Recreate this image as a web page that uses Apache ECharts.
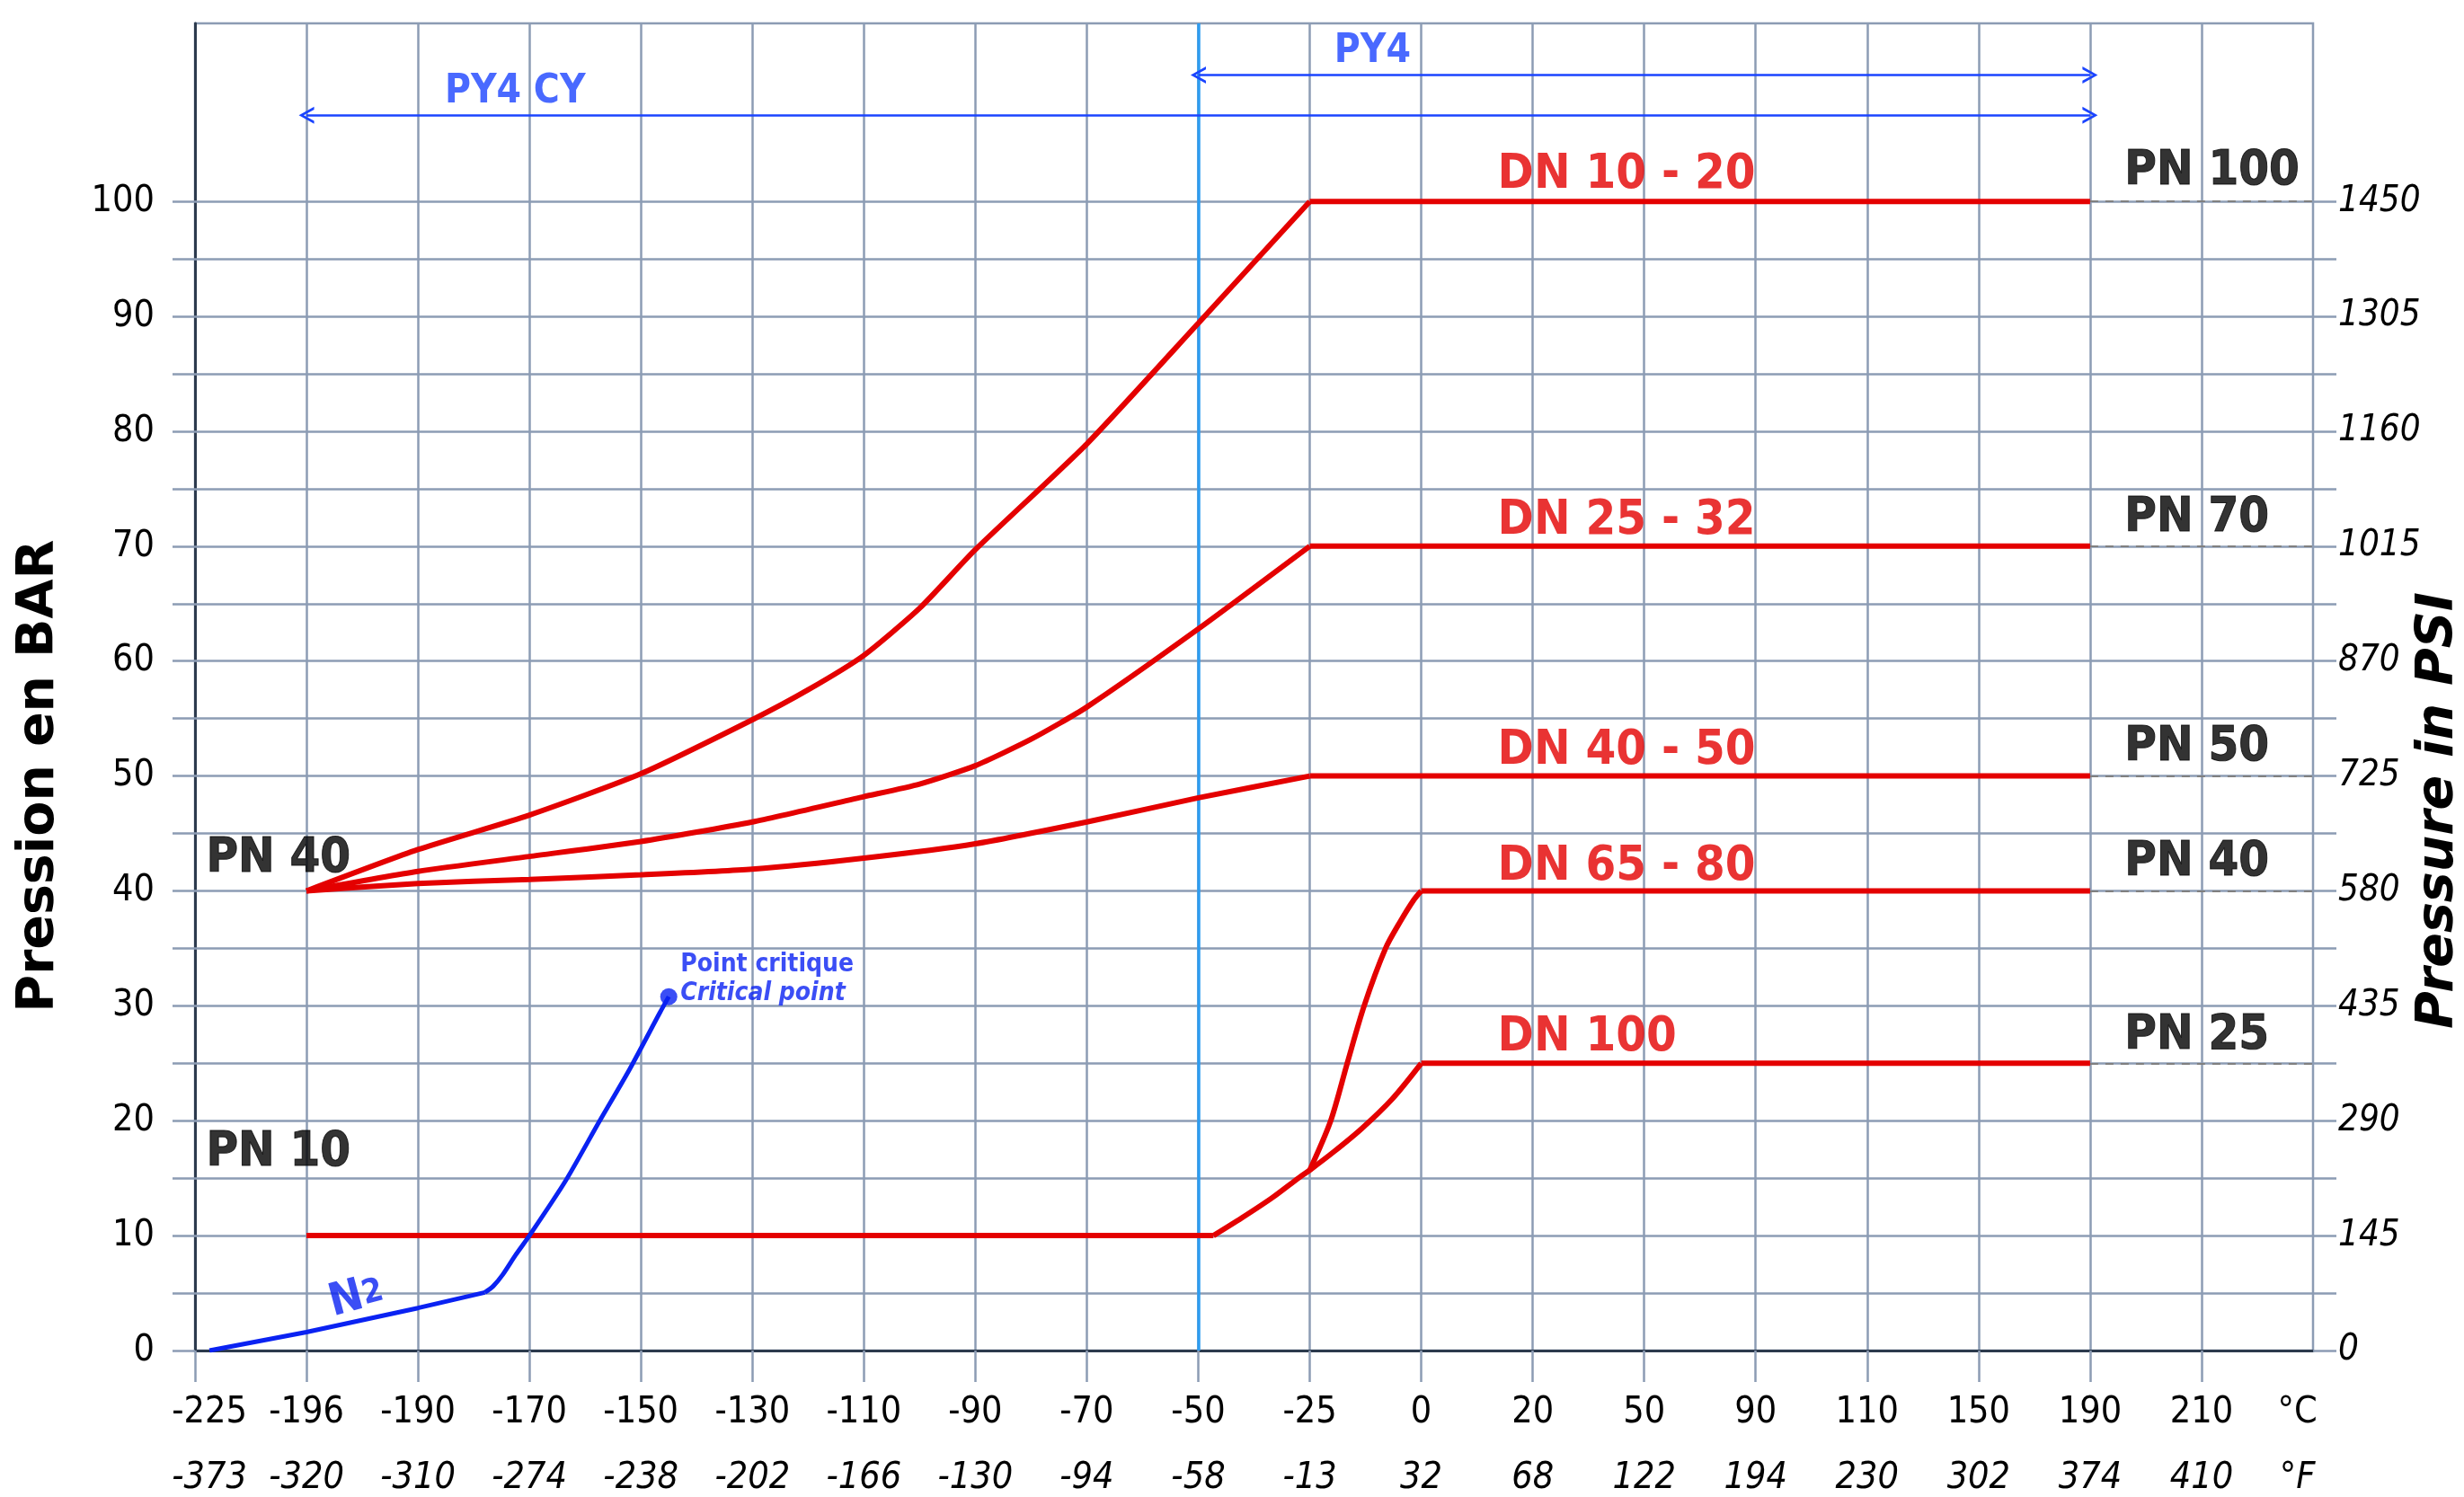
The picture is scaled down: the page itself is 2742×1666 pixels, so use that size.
<!DOCTYPE html>
<html><head><meta charset="utf-8">
<script src="https://cdn.jsdelivr.net/npm/echarts@6/dist/echarts.min.js"></script>
<style>html,body{margin:0;padding:0;background:#fff}#c{width:2742px;height:1666px}</style>
</head><body><div id="c"></div>
<script>
// ---------- data ----------
const celsiusTicks = [-225,-196,-190,-170,-150,-130,-110,-90,-70,-50,-25,0,20,50,90,110,150,190,210];
const fahrenheitTicks = [-373,-320,-310,-274,-238,-202,-166,-130,-94,-58,-13,32,68,122,194,230,302,374,410];
const barTicks = [0,10,20,30,40,50,60,70,80,90,100];
const psiTicks = [0,145,290,435,580,725,870,1015,1160,1305,1450];

// curves: [°C, bar]
const dn1020Curve = [[-196,40],[-190,43.6],[-170,46.6],[-150,50.2],[-130,54.9],[-120,57.5],[-110,60.5],[-100,64.6],[-90,69.7],[-70,78.9],[-50,89.4],[-25,100]];
const dn2532Curve = [[-196,40],[-190,41.7],[-170,43.0],[-150,44.3],[-130,46.0],[-110,48.2],[-100,49.3],[-90,50.9],[-80,53.2],[-70,56.0],[-50,62.8],[-25,70]];
const dn4050Curve = [[-196,40],[-190,40.65],[-170,41.0],[-150,41.4],[-130,41.9],[-110,42.85],[-90,44.1],[-70,46.0],[-50,48.1],[-25,50]];
const pn10Line = [[-196,10],[-46.6,10]];
const dn100Curve = [[-46.6,10],[-40.2,11.55],[-33.4,13.3],[-27.4,15.05],[-25,15.7],[-19.6,17.3],[-13.4,19.3],[-6.5,21.9],[0,25]];
const dn6580Curve = [[-25,15.7],[-20.3,20],[-16.6,25],[-12.8,30],[-8,35],[-4.6,37.4],[-1.7,39.2],[0,40]];
const plateaus = [[-25,190,100],[-25,190,70],[-25,190,50],[0,190,40],[0,190,25]];
const n2Line = [[-225,0],[-196,1.6],[-190,3.7],[-178,5.05]];
const n2Curve = [[-178,5.05],[-176.5,5.6],[-174.8,6.6],[-172.5,8.3],[-170,10],[-163.6,14.7],[-157.5,19.9],[-152,24.5],[-146.6,29.4],[-145,30.8]];
const criticalPoint = [-145,30.8];
const pnLevels = [100,70,50,40,25];
const rangeArrows = [[-196,190,107.5],[-50,190,111]];
const rangeLabels = [['PY4 CY',-185.2,109.5],['PY4',-19.5,113.0]];
const dnLabels = [['DN 10 - 20',102.3],['DN 25 - 32',72.2],['DN 40 - 50',52.2],['DN 65 - 80',42.1],['DN 100',27.2]];
const pnRightLabels = [['PN 100',102.6],['PN 70',72.4],['PN 50',52.5],['PN 40',42.5],['PN 25',27.4]];
const pnLeftLabels = [['PN 40',42.8],['PN 10',17.2]];
const dnLabelX = 13.7, pnRightX = 196.2, pnLeftX = -226;
const criticalLabels = [['Point critique',-142.9,33.6,'normal'],['Critical point',-142.9,31.1,'italic']];
const n2Label = [-193.3,4.6];
const pyDivider = -50;

// ---------- layout / style ----------
const FONT = '"DejaVu Sans Condensed","DejaVu Sans",sans-serif';
const GRID_C = '#8c9cb4', AXIS_C = '#2c3a4d', RED = '#e40000', BLUE = '#0a22f2',
      ARROW_BLUE = '#1b44ff', SKY = '#2d9cf0', DASH_C = '#808080';
const Y_MAX = 115.5, X_MAX = 19, FIRST_SLOT = 0.13, UNIT_SLOT = 18.86;

const slots = celsiusTicks.map((t,i)=> i===0 ? FIRST_SLOT : i);
function toPos(c){
  const n = celsiusTicks.length;
  for (let i=0;i<n-1;i++){
    const a=celsiusTicks[i], b=celsiusTicks[i+1];
    if (c<=b || i===n-2) return slots[i] + (c-a)/(b-a)*(slots[i+1]-slots[i]);
  }
}
const P = arr => arr.map(([c,v])=>[toPos(c),v]);
const labelSlots = slots.concat([UNIT_SLOT]);
function xLabel(v){
  for (let i=0;i<labelSlots.length;i++){
    if (Math.abs(labelSlots[i]-v)<0.005){
      if (i===celsiusTicks.length) return '{c|°C}\n{f|°F}';
      return '{c|'+celsiusTicks[i]+'}\n{f|'+fahrenheitTicks[i]+'}';
    }
  }
  return '';
}
const step5 = []; for (let v=0; v<=barTicks[barTicks.length-1]; v+=5) step5.push(v);
const chevron = 'path://M0,10 L5,0 L10,10 L8.3,10 L5,3.2 L1.7,10 Z';

function redLine(data, smooth){
  return {type:'line', data:P(data), smooth: smooth||false, showSymbol:false, symbol:'none',
    silent:true, z:5, lineStyle:{color:RED, width:6}};
}
function textItem(text, c, v, style){
  return {value:[toPos(c), v], label:Object.assign({show:true, position:'right', distance:0, formatter:text,
    fontFamily:FONT}, style)};
}

const series = [];
series.push({type:'line', data:[], silent:true, z:1, markLine:{silent:true, symbol:['none','none'], label:{show:false},
  lineStyle:{color:GRID_C, width:2.5, type:'solid'}, data: step5.filter(v=>v>0).map(v=>({yAxis:v}))}});
series.push({type:'line', data:[], silent:true, z:2, markLine:{silent:true, symbol:['none','none'], label:{show:false},
  lineStyle:{color:SKY, width:3.5, type:'solid'}, data:[{xAxis:toPos(pyDivider)}]}});
series.push({type:'line', data:[], silent:true, z:2, markLine:{silent:true, symbol:['none','none'], label:{show:false},
  lineStyle:{color:DASH_C, width:2, type:[9,8]},
  data: pnLevels.map(v=>[{coord:[toPos(190),v]},{coord:[X_MAX,v]}])}});
series.push({type:'line', data:[], silent:true, z:3, markLine:{silent:true, symbol:[chevron,chevron], symbolSize:[19,17],
  label:{show:false}, lineStyle:{color:ARROW_BLUE, width:2.5, type:'solid'},
  data: rangeArrows.map(([a,b,v])=>[{coord:[toPos(a),v]},{coord:[toPos(b),v]}])}});
[dn1020Curve, dn2532Curve, dn4050Curve].forEach(d=>series.push(redLine(d,0.2)));
series.push(redLine(dn100Curve,0.3));
series.push(redLine(dn6580Curve,0.3));
series.push(redLine(pn10Line,false));
plateaus.forEach(([a,b,v])=>series.push(redLine([[a,v],[b,v]],false)));
series.push({type:'line', data:P(n2Line), showSymbol:false, symbol:'none', silent:true, z:6, lineStyle:{color:BLUE,width:5}});
series.push({type:'line', data:P(n2Curve), smooth:0.25, showSymbol:false, symbol:'none', silent:true, z:6, lineStyle:{color:BLUE,width:5}});
series.push({type:'scatter', data:[[toPos(criticalPoint[0]), criticalPoint[1]]], symbolSize:19, silent:true, z:7, itemStyle:{color:BLUE}});
const texts = [];
dnLabels.forEach(([t,v])=>texts.push(textItem(t, dnLabelX, v, {color:RED, fontSize:54, fontWeight:'bold'})));
pnRightLabels.forEach(([t,v])=>texts.push(textItem(t, pnRightX, v, {color:'#000', fontSize:54, fontWeight:'bold', textBorderColor:'#000', textBorderWidth:1})));
pnLeftLabels.forEach(([t,v])=>texts.push(textItem(t, pnLeftX, v, {color:'#000', fontSize:54, fontWeight:'bold', textBorderColor:'#000', textBorderWidth:1})));
rangeLabels.forEach(([t,c,v])=>texts.push(textItem(t, c, v, {color:ARROW_BLUE, fontSize:44, fontWeight:'bold'})));
criticalLabels.forEach(([t,c,v,s])=>texts.push(textItem(t, c, v, {color:BLUE, fontSize:28, fontWeight:'bold', fontStyle:s})));
texts.push({value:[toPos(n2Label[0]), n2Label[1]], label:{show:true, position:'inside', rotate:15, formatter:'{n|N}{s|2}',
  rich:{n:{fontSize:50, fontWeight:'bold', color:BLUE, fontFamily:FONT}, s:{fontSize:37, fontWeight:'bold', color:BLUE, fontFamily:FONT}}}});
series.push({type:'scatter', data:texts, symbolSize:0, silent:true, z:10, itemStyle:{color:'transparent'}});

const option = {
  animation:false,
  backgroundColor:'#fff',
  grid:{left:217, right:168, top:26, bottom:162, show:true, borderColor:GRID_C, borderWidth:2.5, backgroundColor:'#fff'},
  xAxis:{type:'value', min:0, max:X_MAX, interval:1,
    axisLine:{show:true, onZero:false, lineStyle:{color:AXIS_C, width:3}},
    axisTick:{show:true, customValues:slots.map((s,i)=>i), length:35, lineStyle:{color:GRID_C, width:2.5}},
    splitLine:{show:true, lineStyle:{color:GRID_C, width:2.5}},
    axisLabel:{show:true, customValues:labelSlots, margin:33, formatter:xLabel,
      rich:{c:{fontSize:41, fontFamily:FONT, color:'#000', lineHeight:73},
            f:{fontSize:41, fontFamily:FONT, fontStyle:'italic', color:'#000', lineHeight:73}}}},
  yAxis:[
    {type:'value', min:0, max:Y_MAX, position:'left',
      axisLine:{show:true, lineStyle:{color:AXIS_C, width:3}},
      axisTick:{show:true, customValues:step5, length:25, lineStyle:{color:GRID_C, width:2.5}},
      splitLine:{show:false},
      axisLabel:{customValues:barTicks, margin:45, fontSize:41, fontFamily:FONT, color:'#000'}},
    {type:'value', min:0, max:Y_MAX, position:'right',
      axisLine:{show:false},
      axisTick:{show:true, customValues:step5, length:26, lineStyle:{color:GRID_C, width:2.5}},
      splitLine:{show:false},
      axisLabel:{customValues:barTicks, margin:28, fontSize:40, fontFamily:FONT, fontStyle:'italic', color:'#000',
        formatter:v=>psiTicks[barTicks.indexOf(v)]}}
  ],
  series
};
const chart = echarts.init(document.getElementById('c'));
chart.setOption(option);
const yl = chart.convertToPixel({yAxisIndex:0}, 50);
const yr = chart.convertToPixel({yAxisIndex:0}, 47);
chart.setOption({graphic:[
  {type:'text', x:44, y:yl, rotation:Math.PI/2, silent:true,
    style:{text:'Pression en BAR', font:'bold 57px "DejaVu Sans", sans-serif', fill:'#000', align:'center', verticalAlign:'middle', textAlign:'center', textVerticalAlign:'middle'}},
  {type:'text', x:2714, y:yr, rotation:Math.PI/2, silent:true,
    style:{text:'Pressure in PSI', font:'italic bold 57px "DejaVu Sans", sans-serif', fill:'#000', align:'center', verticalAlign:'middle', textAlign:'center', textVerticalAlign:'middle'}}
]});
</script></body></html>
